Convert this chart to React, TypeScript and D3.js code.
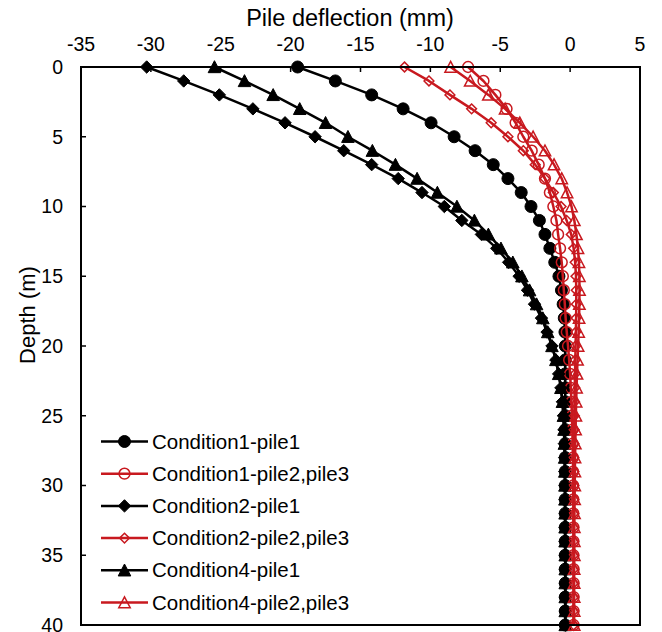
import React from 'react';
import * as d3 from 'd3';

const depths = [0,1,2,3,4,5,6,7,8,9,10,11,12,13,14,15,16,17,18,19,20,21,22,23,24,25,26,27,28,29,30,31,32,33,34,35,36,37,38,39,40];

const seriesNames = [
  'Condition1-pile1',
  'Condition1-pile2,pile3',
  'Condition2-pile1',
  'Condition2-pile2,pile3',
  'Condition4-pile1',
  'Condition4-pile2,pile3',
];

const cond1Pile1 = [-19.5,-16.8,-14.2,-11.95,-9.95,-8.3,-6.8,-5.5,-4.45,-3.5,-2.8,-2.2,-1.8,-1.45,-1.1,-0.8,-0.62,-0.5,-0.42,-0.37,-0.35,
  -0.35,-0.35,-0.35,-0.35,-0.35,-0.35,-0.35,-0.35,-0.35,-0.35,-0.35,-0.35,-0.35,-0.35,-0.35,-0.35,-0.35,-0.35,-0.35,-0.35];
const cond1Pile23 = [-7.3,-6.2,-5.35,-4.55,-3.9,-3.35,-2.75,-2.25,-1.8,-1.45,-1.2,-0.98,-0.86,-0.72,-0.6,-0.52,-0.45,-0.38,-0.32,-0.24,-0.15,
  -0.07,0,0.05,0.1,0.13,0.16,0.18,0.2,0.21,0.22,0.23,0.23,0.24,0.24,0.24,0.25,0.25,0.25,0.25,0.25];
const cond2Pile1 = [-30.3,-27.65,-25.1,-22.7,-20.4,-18.25,-16.2,-14.2,-12.3,-10.6,-9.0,-7.75,-6.35,-5.25,-4.4,-3.65,-3.05,-2.55,-2.05,-1.65,-1.3,
  -1.02,-0.82,-0.66,-0.55,-0.48,-0.44,-0.41,-0.39,-0.38,-0.37,-0.37,-0.36,-0.36,-0.36,-0.35,-0.35,-0.35,-0.35,-0.35,-0.35];
const cond2Pile23 = [-11.85,-10.1,-8.6,-7.05,-5.65,-4.45,-3.35,-2.5,-1.8,-1.2,-0.65,-0.25,0.08,0.25,0.36,0.42,0.44,0.44,0.43,0.41,0.39,
  0.37,0.35,0.33,0.31,0.3,0.29,0.28,0.27,0.27,0.26,0.26,0.26,0.25,0.25,0.25,0.25,0.25,0.25,0.25,0.25];
const cond4Pile1 = [-25.45,-23.3,-21.25,-19.35,-17.5,-15.9,-14.15,-12.5,-10.95,-9.5,-8.1,-6.85,-5.85,-4.95,-4.1,-3.45,-2.9,-2.4,-1.95,-1.6,-1.3,
  -1.02,-0.82,-0.66,-0.55,-0.48,-0.44,-0.41,-0.39,-0.38,-0.37,-0.37,-0.36,-0.36,-0.36,-0.35,-0.35,-0.35,-0.35,-0.35,-0.35];
const cond4Pile23 = [-8.55,-7.15,-5.85,-4.65,-3.6,-2.65,-1.8,-1.15,-0.6,-0.22,0.1,0.3,0.45,0.56,0.63,0.66,0.67,0.66,0.64,0.61,0.57,
  0.53,0.49,0.46,0.43,0.41,0.39,0.37,0.35,0.34,0.33,0.32,0.31,0.3,0.3,0.3,0.29,0.29,0.29,0.29,0.29];

const xTickValues = [-35,-30,-25,-20,-15,-10,-5,0,5];
const yTickValues = [0,5,10,15,20,25,30,35,40];

const xTitle = 'Pile deflection (mm)';
const yTitle = 'Depth (m)';

const BLACK = '#000000';
const RED = '#C8191F';
const FONT = '"Liberation Sans", Arial, sans-serif';

type Shape = 'circle' | 'diamond' | 'triangle';
const seriesStyle: { color: string; shape: Shape; filled: boolean }[] = [
  { color: BLACK, shape: 'circle', filled: true },
  { color: RED, shape: 'circle', filled: false },
  { color: BLACK, shape: 'diamond', filled: true },
  { color: RED, shape: 'diamond', filled: false },
  { color: BLACK, shape: 'triangle', filled: true },
  { color: RED, shape: 'triangle', filled: false },
];
const seriesValues = [cond1Pile1, cond1Pile23, cond2Pile1, cond2Pile23, cond4Pile1, cond4Pile23];

function Marker({ cx, cy, shape, color, filled }: { cx: number; cy: number; shape: Shape; color: string; filled: boolean }) {
  const fill = filled ? color : 'none';
  const sw = filled ? 1 : 1.5;
  if (shape === 'circle') {
    const r = filled ? 6 : 5.4;
    return <circle cx={cx} cy={cy} r={r} fill={fill} stroke={color} strokeWidth={sw} />;
  }
  if (shape === 'diamond') {
    const s = filled ? 6.2 : 4.9;
    const pts = `${cx},${cy - s} ${cx + s},${cy} ${cx},${cy + s} ${cx - s},${cy}`;
    return <polygon points={pts} fill={fill} stroke={color} strokeWidth={sw} />;
  }
  const h = filled ? 6.3 : 5.7;
  const pts = `${cx},${cy - h} ${cx + h},${cy + h * 0.9} ${cx - h},${cy + h * 0.9}`;
  return <polygon points={pts} fill={fill} stroke={color} strokeWidth={sw} strokeLinejoin="miter" />;
}

export default function App() {
  const W = 662, H = 632;
  const left = 81, right = 640, top = 67, bottom = 625;
  const x = d3.scaleLinear().domain([-35, 5]).range([left, right]);
  const y = d3.scaleLinear().domain([0, 40]).range([top, bottom]);

  const line = d3.line<[number, number]>().x(d => x(d[0])).y(d => y(d[1]));

  const legendX1 = 101, legendX2 = 148, legendMarkerX = 124.5, legendTextX = 152;
  const legendY0 = 441.5, legendDy = 32.2;

  return (
    <svg width={W} height={H} style={{ position: 'absolute', left: 0, top: 0, background: '#fff' }} fontFamily={FONT}>
      <rect x={0} y={0} width={W} height={H} fill="#fff" />
      {seriesValues.map((vals, si) => {
        const st = seriesStyle[si];
        const pts = vals.map((v, i) => [v, depths[i]] as [number, number]);
        return (
          <g key={si}>
            <path d={line(pts) || ''} fill="none" stroke={st.color} strokeWidth={2.5} strokeLinejoin="round" />
            {pts.map((p, i) => (
              <Marker key={i} cx={x(p[0])} cy={y(p[1])} shape={st.shape} color={st.color} filled={st.filled} />
            ))}
          </g>
        );
      })}
      <rect x={left} y={top} width={right - left} height={bottom - top} fill="none" stroke="#000" strokeWidth={2} />
      {xTickValues.map(t => (
        <g key={'xt' + t}>
          <line x1={x(t)} x2={x(t)} y1={top} y2={top + 5} stroke="#000" strokeWidth={1.5} />
          <text x={x(t)} y={top - 16} textAnchor="middle" fontSize={19.5} fill="#000">{t}</text>
        </g>
      ))}
      {yTickValues.map(t => (
        <g key={'yt' + t}>
          <line x1={left} x2={left + 5} y1={y(t)} y2={y(t)} stroke="#000" strokeWidth={1.5} />
          <text x={left - 18} y={y(t)} dy="0.35em" textAnchor="end" fontSize={19.5} fill="#000">{t}</text>
        </g>
      ))}
      <text x={350} y={26} textAnchor="middle" fontSize={23.5} fill="#000">{xTitle}</text>
      <text transform={`translate(35,${315}) rotate(-90)`} textAnchor="middle" fontSize={22} fill="#000">{yTitle}</text>
      {seriesNames.map((name, i) => {
        const ly = legendY0 + i * legendDy;
        const st = seriesStyle[i];
        return (
          <g key={'lg' + i}>
            <line x1={legendX1} x2={legendX2} y1={ly} y2={ly} stroke={st.color} strokeWidth={2.5} />
            <Marker cx={legendMarkerX} cy={ly} shape={st.shape} color={st.color} filled={st.filled} />
            <text x={legendTextX} y={ly} dy="0.35em" fontSize={20.5} fill="#000">{name}</text>
          </g>
        );
      })}
    </svg>
  );
}
